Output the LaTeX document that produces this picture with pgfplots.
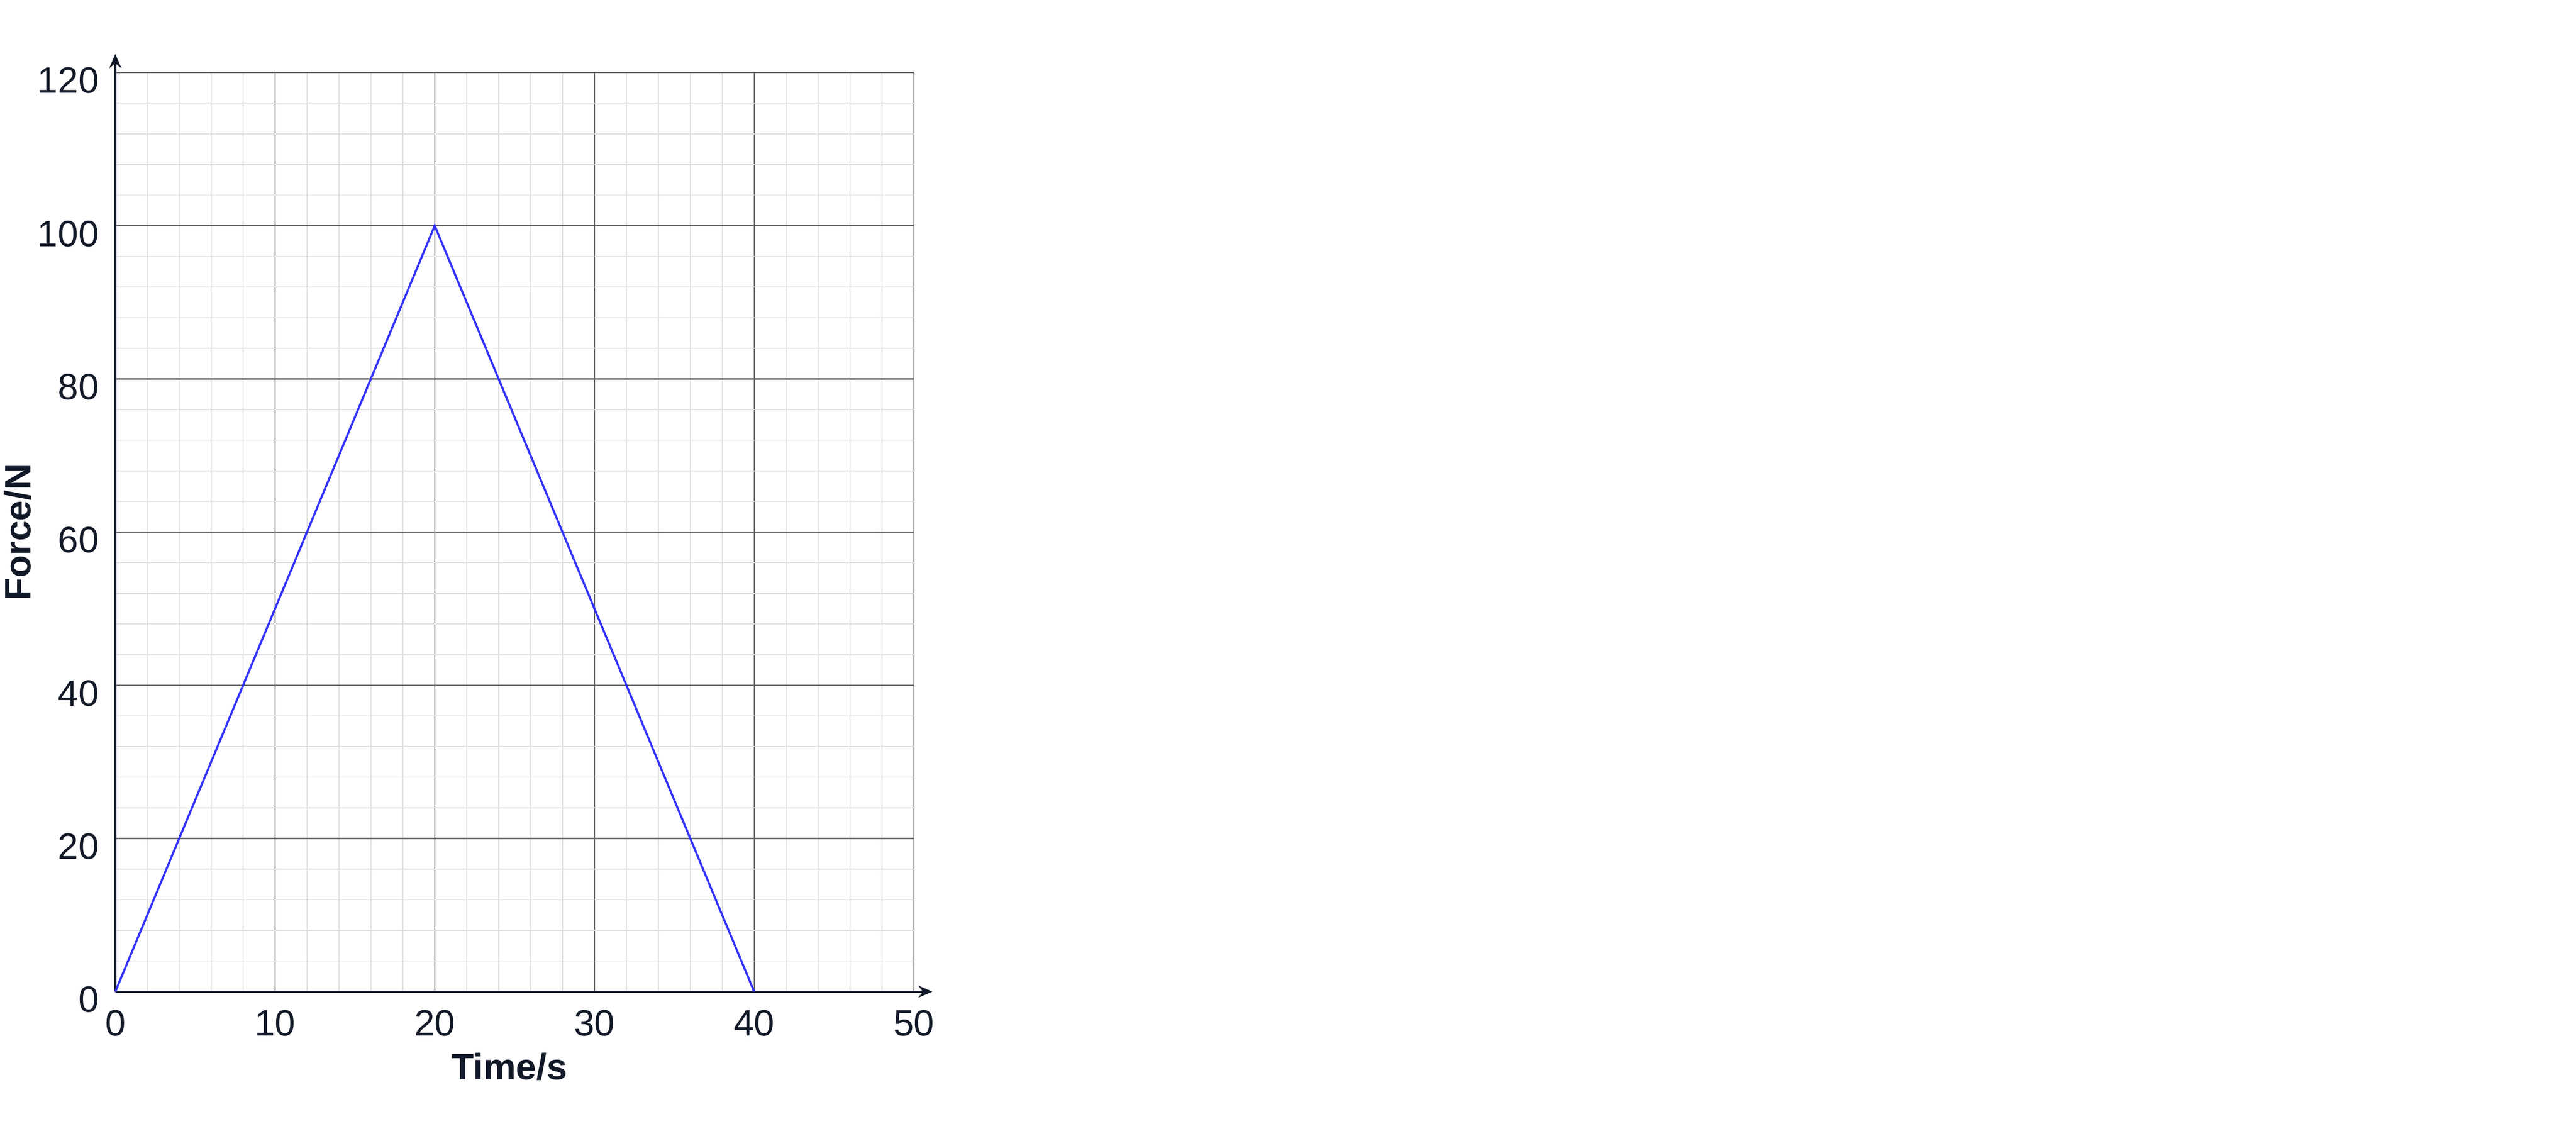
\documentclass[border=0pt]{standalone}
\usepackage{fontspec}
\setmainfont{Liberation Sans}
\usepackage{pgfplots}
\pgfplotsset{compat=1.18}
\usetikzlibrary{arrows.meta}

\definecolor{ink}{HTML}{111827}
\definecolor{majorgrid}{HTML}{666666}
\definecolor{minorgrid}{HTML}{E0E0E0}
\definecolor{lineblue}{HTML}{3333FF}

\begin{document}
\begin{tikzpicture}
\begin{axis}[
    name=ax,
    at={(0,0)}, anchor=south west,
    scale only axis,
    width=228.5pt,
    height=263pt,
    xmin=0, xmax=50,
    ymin=0, ymax=120,
    axis lines=left,
    axis line style={ink, line width=0.65pt, -{Stealth[length=4pt,width=3.4pt]}, shorten >=-5.3pt},
    xtick={0,10,...,50},
    ytick={0,20,...,120},
    minor x tick num=4,
    minor y tick num=4,
    major tick length=0pt,
    minor tick length=0pt,
    grid=both,
    major grid style={majorgrid, line width=0.32pt},
    minor grid style={minorgrid, line width=0.25pt},
    tick label style={font=\fontsize{10.5}{12}\selectfont, text=ink},
    /pgf/number format/assume math mode=true,
    xticklabel style={yshift=-1.7pt},
    yticklabel style={xshift=-1.2pt, yshift=-2.3pt},
    label style={font=\fontsize{10.5}{12}\selectfont\bfseries, text=ink},
    xlabel={Time/s},
    ylabel={Force/N},
    xlabel style={at={(axis description cs:0.4934,-0.0817)}, anchor=center},
    ylabel style={at={(axis description cs:-0.1225,0.5)}, anchor=center},
    clip=false,
]
\addplot[lineblue, line width=0.6pt] coordinates {
    (0,0) (20,100) (40,0)
};
\end{axis}
\pgfresetboundingbox
\path ([shift={(-33pt,-41.25pt)}]ax.south west) rectangle ([shift={(475.6pt,20.75pt)}]ax.north east);
\end{tikzpicture}
\end{document}
